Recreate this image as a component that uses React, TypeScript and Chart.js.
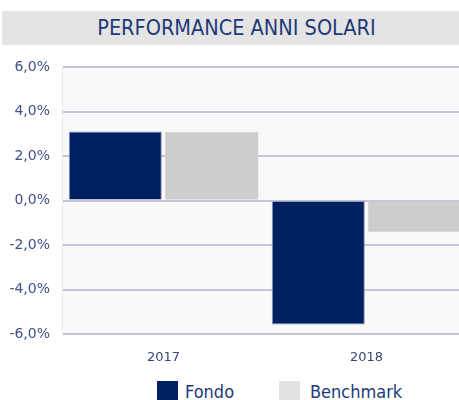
import React, { useEffect, useRef } from "react";
import { Chart, registerables } from "chart.js";

Chart.register(...registerables);

const TITLE = "PERFORMANCE ANNI SOLARI";
const categories = ["2017", "2018"];
const seriesNames = ["Fondo", "Benchmark"];
const fondoValues = [3.1, -5.57];
const benchmarkValues = [3.07, -1.4];
const barColors = ["#002161", "#cdcdcd"];
const legendColors = ["#002161", "#e2e2e2"];
const yTicks = [-6, -4, -2, 0, 2, 4, 6];

const fmt = (v: number) => v.toFixed(1).replace(".", ",") + "%";

export default function App() {
  const ref = useRef<HTMLCanvasElement | null>(null);

  useEffect(() => {
    const canvas = ref.current;
    if (!canvas) return;
    const bgPlugin = {
      id: "plotBg",
      beforeDraw(chart: any) {
        const { ctx, chartArea } = chart;
        if (!chartArea) return;
        ctx.save();
        ctx.fillStyle = "#f9f9f9";
        ctx.fillRect(chartArea.left, chartArea.top, chartArea.right - chartArea.left, chartArea.bottom - chartArea.top);
        ctx.restore();
      },
    };
    const chart = new Chart(canvas, {
      type: "bar",
      data: {
        labels: categories,
        datasets: [
          {
            label: seriesNames[0],
            data: fondoValues,
            backgroundColor: barColors[0],
            borderColor: "#8a94bd",
            borderWidth: 1,
          },
          {
            label: seriesNames[1],
            data: benchmarkValues,
            backgroundColor: barColors[1],
            borderWidth: 0,
          },
        ],
      },
      options: {
        responsive: false,
        animation: false,
        devicePixelRatio: 1,
        layout: { padding: { top: 67, right: 12, left: 0, bottom: 0 } },
        datasets: { bar: { categoryPercentage: 0.95, barPercentage: 0.965 } },
        plugins: {
          legend: { display: false },
          title: { display: false },
          tooltip: { enabled: false },
        },
        scales: {
          x: {
            grid: { display: false, drawTicks: false },
            border: { display: false },
            ticks: {
              padding: 16,
              color: "#3a4872",
              font: { family: "DejaVu Sans", size: 13 },
            },
            afterFit: (s: any) => {
              s.height = 38;
            },
          },
          y: {
            min: -6,
            max: 6,
            afterBuildTicks: (s: any) => {
              s.ticks = yTicks.map((v) => ({ value: v }));
            },
            grid: { color: "#c4c4dc", lineWidth: 2, drawTicks: false },
            border: { display: true, color: "#e8e8e8", width: 1 },
            ticks: {
              padding: 12,
              color: "#40518a",
              font: { family: "DejaVu Sans", size: 14 },
              callback: (v: any) => fmt(Number(v)),
            },
            afterFit: (s: any) => {
              s.width = 62;
            },
          },
        },
      },
      plugins: [bgPlugin],
    });
    return () => chart.destroy();
  }, []);

  return (
    <div
      style={{
        position: "fixed",
        left: 0,
        top: 0,
        width: 459,
        height: 400,
        overflow: "hidden",
        background: "#ffffff",
      }}
    >
      <canvas
        ref={ref}
        width={480}
        height={372}
        style={{ position: "absolute", left: 0, top: 0, width: 480, height: 372 }}
      />
      <div
        style={{
          position: "absolute",
          left: 2,
          top: 11,
          width: 457,
          height: 34,
          background: "#e4e4e4",
          color: "#1c3a78",
          fontFamily: "'DejaVu Sans Condensed', 'DejaVu Sans', sans-serif",
          fontSize: 21.5,
          lineHeight: "34px",
          textAlign: "center",
          paddingLeft: 12,
          boxSizing: "border-box",
          whiteSpace: "nowrap",
        }}
      >
        {TITLE}
      </div>
      {seriesNames.map((name, i) => (
        <div
          key={name}
          style={{
            position: "absolute",
            left: i === 0 ? 157 : 279,
            top: 381,
            height: 21,
            display: "flex",
            alignItems: "center",
            whiteSpace: "nowrap",
          }}
        >
          <span style={{ display: "inline-block", width: 21, height: 21, background: legendColors[i] }} />
          <span
            style={{
              marginLeft: i === 0 ? 7 : 10,
              color: "#1c3a78",
              fontFamily: "'DejaVu Sans Condensed', 'DejaVu Sans', sans-serif",
              fontSize: 18,
              lineHeight: "21px",
            }}
          >
            {name}
          </span>
        </div>
      ))}
    </div>
  );
}
